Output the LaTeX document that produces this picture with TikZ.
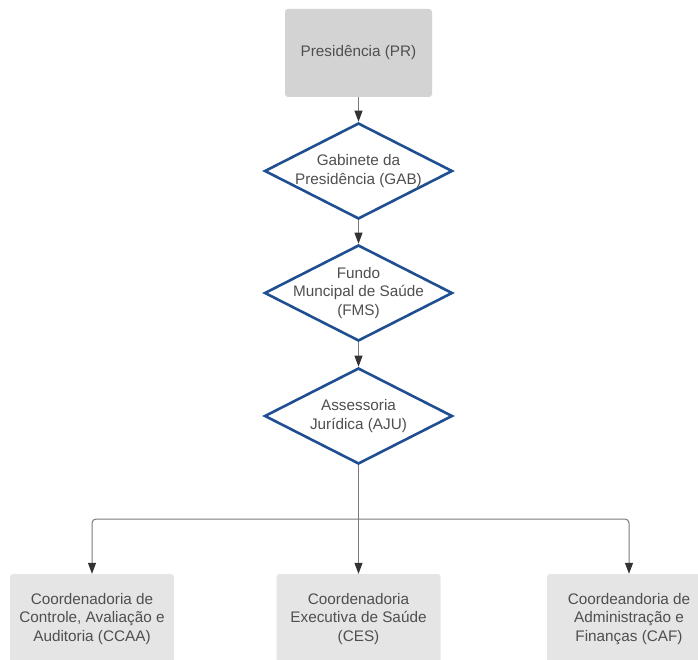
\documentclass[tikz,border=0pt]{standalone}
\usepackage{fontspec}
\setmainfont{Liberation Sans}
\usetikzlibrary{shapes.geometric, arrows.meta}
\definecolor{prgray}{HTML}{D3D3D3}
\definecolor{coordgray}{HTML}{E5E5E5}
\definecolor{diablue}{HTML}{1F4F91}
\definecolor{txtgray}{HTML}{4F4F4F}
\definecolor{linegray}{HTML}{7A7A7A}
\definecolor{tipgray}{HTML}{333333}

\begin{document}
\begin{tikzpicture}[x=1pt, y=-1pt,
    font=\fontsize{15.3}{18.5}\selectfont,
    prbox/.style={rectangle, rounded corners=3pt, fill=prgray, minimum width=147pt, minimum height=88pt, text=txtgray, align=center},
    coordbox/.style={rectangle, rounded corners=3pt, fill=coordgray, minimum width=164pt, minimum height=90pt, text=txtgray, align=center},
    dia/.style={diamond, draw=diablue, line width=2.6pt, fill=white, minimum width=188pt, minimum height=96pt, inner sep=0pt},
    diatext/.style={text=txtgray, align=center},
    conn/.style={draw=linegray, line width=1pt, -{Triangle[width=8pt,length=11pt,color=tipgray,fill=tipgray]}}]
      \clip (0,0) rectangle (698,660);
      \node (pr)[prbox] at (358.5, 53) {Presidência (PR)};
      \node (gab)[dia] at (358.5, 171) {};
      \node (gabt)[diatext] at (gab) {Gabinete da\\Presidência (GAB)};
      \node (fms)[dia] at (358.5, 293) {};
      \node (fmst)[diatext] at (fms) {Fundo\\Muncipal de Saúde\\(FMS)};
      \node (aju)[dia] at (358.5, 416) {};
      \node (ajut)[diatext] at (aju) {Assessoria\\Jurídica (AJU)};
      \node (ccaa)[coordbox] at (92, 619) {Coordenadoria de\\Controle, Avaliação e\\Auditoria (CCAA)};
      \node (ces)[coordbox] at (358.5, 619) {Coordenadoria\\Executiva de Saúde\\(CES)};
      \node (caf)[coordbox] at (629, 619) {Coordeandoria de\\Administração e\\Finanças (CAF)};
      \coordinate (split) at (358.5, 519);
      \draw[conn] (pr) -- (gab);
      \draw[conn] (gab) -- (fms);
      \draw[conn] (fms) -- (aju);
      \draw[draw=linegray, line width=1pt] (aju) -- (split);
      \draw[conn, rounded corners=4pt] (split) -| (ccaa);
      \draw[conn] (split) -- (ces);
      \draw[conn, rounded corners=4pt] (split) -| (caf);
\end{tikzpicture}
\end{document}
